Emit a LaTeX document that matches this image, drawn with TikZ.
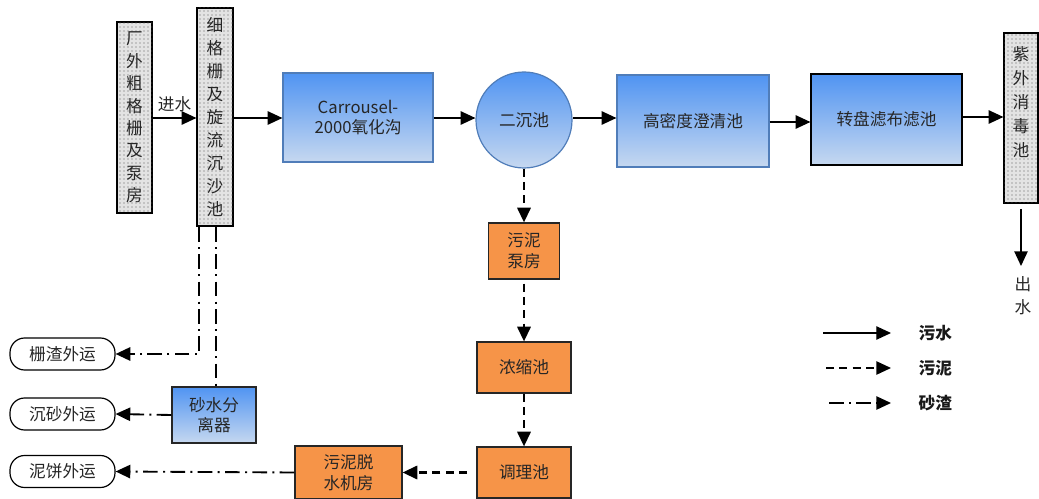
\documentclass[tikz,border=0pt]{standalone}
\usepackage{fontspec}
\setmainfont{Noto Sans CJK SC}
\usetikzlibrary{arrows.meta,patterns,shapes.geometric}
\begin{document}
\begin{tikzpicture}[x=0.75pt,y=-0.75pt,
  font=\fontsize{12.5}{15.5}\selectfont,
  tip/.style={-{Triangle[length=11pt,width=10pt]}},
  flow/.style={tip,line width=1.1pt},
  sludge/.style={tip,line width=1.7pt,dash pattern=on 6pt off 4pt},
  grit/.style={tip,line width=1.4pt,dash pattern=on 11pt off 4pt on 1.5pt off 4pt},
  graybox/.style={draw=black,line width=0.9pt,fill=gray!22,
     postaction={pattern=dots,pattern color=gray!70!black},
     inner sep=0pt,align=center,text=black!85,font=\fontsize{12.5}{16.8}\selectfont},
  bluebox/.style={draw={rgb,255:red,80;green,125;blue,185},line width=0.9pt,
     top color={rgb,255:red,80;green,148;blue,242},
     bottom color={rgb,255:red,198;green,216;blue,240},
     inner sep=0pt,align=center,text=black!85},
  orangebox/.style={draw=black!85,line width=0.9pt,
     fill={rgb,255:red,246;green,148;blue,72},
     inner sep=0pt,align=center,text=black!85},
  oval/.style={draw=black,line width=0.9pt,fill=white,rounded corners=11pt,
     minimum width={105*0.75pt},minimum height={32*0.75pt},inner sep=0pt,text=black!85},
  legtext/.style={font=\fontsize{12.5}{14}\selectfont\bfseries,text=black!90}
]
\useasboundingbox (0,0) rectangle (1039,499);

% gray vertical boxes
\node[graybox,minimum width={35*0.75pt},minimum height={191*0.75pt}] (g1) at (134.5,117.5)
  {厂\\外\\粗\\格\\栅\\及\\泵\\房};
\node[graybox,minimum width={36*0.75pt},minimum height={218*0.75pt},font=\fontsize{12.5}{17.2}\selectfont] (g2) at (215,117)
  {细\\格\\栅\\及\\旋\\流\\沉\\沙\\池};
\node[graybox,minimum width={34*0.75pt},minimum height={170*0.75pt},font=\fontsize{12.5}{18}\selectfont] (uv) at (1021,118)
  {紫\\外\\消\\毒\\池\\[6pt]};

% blue boxes
\node[bluebox,minimum width={150*0.75pt},minimum height={89*0.75pt}] (carr) at (358,117.5)
  {Carrousel-\\2000氧化沟};
\node[bluebox,circle,minimum size={96*0.75pt}] (circ) at (524,120) {二沉池};
\node[bluebox,minimum width={152*0.75pt},minimum height={92*0.75pt}] (hd) at (693,121) {高密度澄清池};
\node[bluebox,draw=black,minimum width={151*0.75pt},minimum height={91*0.75pt}] (zp) at (886.5,119.5) {转盘滤布滤池};
\node[bluebox,draw=black!85,minimum width={84*0.75pt},minimum height={56*0.75pt}] (sand) at (214,415) {砂水分\\离器};

% orange boxes
\node[orangebox,minimum width={71*0.75pt},minimum height={56*0.75pt}] (pump) at (524,251) {污泥\\泵房};
\node[orangebox,minimum width={94*0.75pt},minimum height={51*0.75pt}] (nz) at (524,367.5) {浓缩池};
\node[orangebox,minimum width={94*0.75pt},minimum height={51*0.75pt}] (tl) at (524,472.5) {调理池};
\node[orangebox,minimum width={107*0.75pt},minimum height={53*0.75pt}] (ts) at (348.5,472.5) {污泥脱\\水机房};

% ovals
\node[oval] (o1) at (62.5,354) {栅渣外运};
\node[oval] (o2) at (62.5,414) {沉砂外运};
\node[oval] (o3) at (62.5,471.5) {泥饼外运};

% main water flow
\draw[flow] (g1.east |- 0,118) -- node[above=1pt,text=black!85] {进水} (g2.west |- 0,118);
\draw[flow] (g2.east |- 0,118) -- (carr.west |- 0,118);
\draw[flow] (carr.east |- 0,118) -- (circ.west |- 0,118);
\draw[flow] (circ.east |- 0,118) -- (hd.west |- 0,118);
\draw[flow] (hd.east |- 0,122) -- (zp.west |- 0,122);
\draw[flow] (zp.east |- 0,117) -- (uv.west |- 0,117);
\coordinate (outw) at (1021,266);
\draw[flow] (1021,209) -- (outw);
\node[align=center,text=black!85,font=\fontsize{12.5}{17}\selectfont,anchor=north] (out) at (1023,272) {出\\水};

% sludge flow
\draw[sludge] (circ.south) -- (pump.north);
\draw[sludge] (pump.south) ++(0,4) -- (nz.north);
\draw[sludge] (nz.south) -- (tl.north);
\draw[sludge] ([xshift=-7pt]tl.west) -- (ts.east);

% grit flow
\coordinate (s1) at (199,227);
\coordinate (s2) at (216,227);
\draw[grit] (s1) -- (199,354) -- (o1.east);
\draw[grit,-] (s2) -- (sand.north -| s2);
\draw[grit] (sand.west) -- (o2.east);
\draw[grit] (ts.west) -- (o3.east);

% legend
\coordinate (l1a) at (823,333); \coordinate (l1b) at (891,333);
\coordinate (l2a) at (826,368); \coordinate (l2b) at (891,368);
\coordinate (l3a) at (829,403); \coordinate (l3b) at (891,403);
\draw[flow,line width=0.9pt] (l1a) -- (l1b);
\draw[sludge,line width=1.1pt] (l2a) -- (l2b);
\draw[grit,line width=1.1pt] (l3a) -- (l3b);
\node[legtext,anchor=west] (t1) at (914,333) {污水};
\node[legtext,anchor=west] (t2) at (914,368) {污泥};
\node[legtext,anchor=west] (t3) at (914,403) {砂渣};
\end{tikzpicture}
\end{document}
